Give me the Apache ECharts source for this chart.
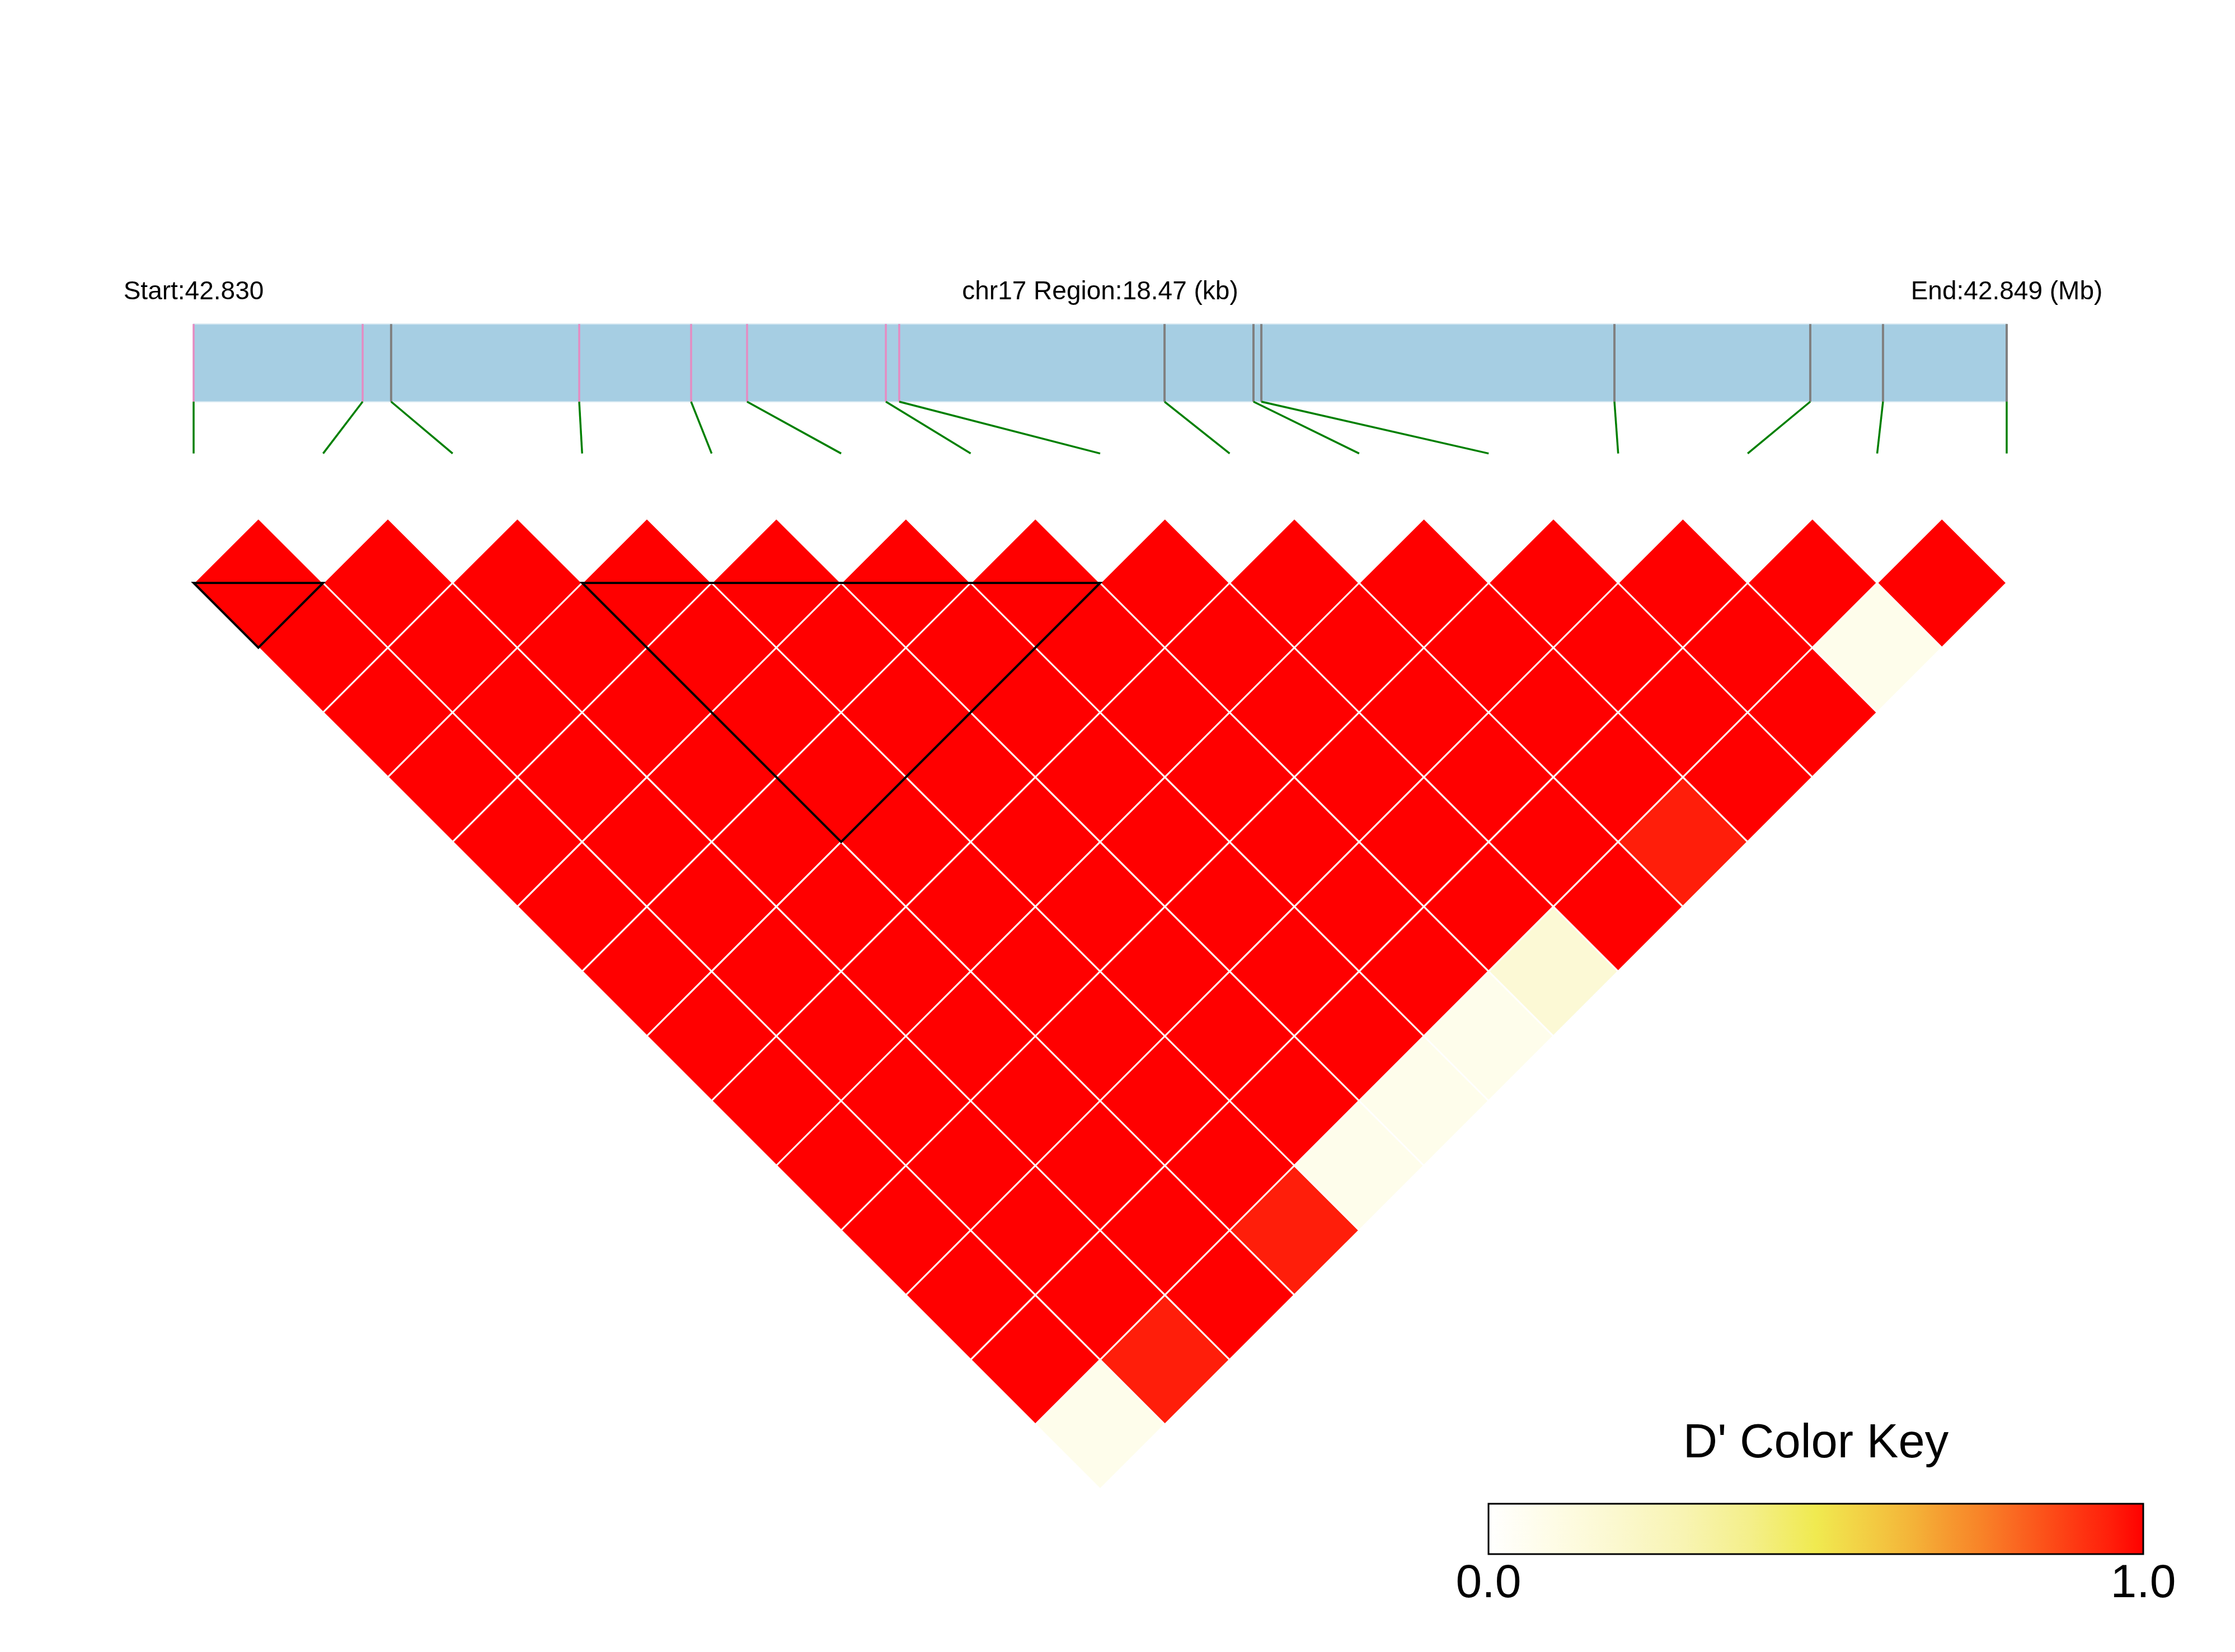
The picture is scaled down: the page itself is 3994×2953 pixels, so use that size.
<!DOCTYPE html>
<html><head><meta charset="utf-8">
<script src="https://cdn.jsdelivr.net/npm/echarts/dist/echarts.min.js"></script>
<style>html,body{margin:0;padding:0;background:#fff}#c{width:3994px;height:2953px}</style>
</head><body><div id="c"></div>
<script>
// ---------- data ----------
const chromosome = 'chr17';
const regionStartMb = 42.830;
const regionEndMb = 42.849;
const regionLengthKb = 18.47;
// physical SNP positions (kb from region start)
const snpPosKb = [0, 1.722, 2.012, 3.928, 5.068, 5.638, 7.052, 7.188, 9.891, 10.797, 10.877, 14.474, 16.469, 17.210, 18.47];
// marker class (1 = pink mark, 0 = grey mark)
const snpClass = [1, 1, 0, 1, 1, 1, 1, 1, 0, 0, 0, 0, 0, 0, 0];
// pairwise D' (row i holds pairs (i, i+1 .. 14))
const dprimeRows = [
  [1, 1, 1, 1, 1, 1, 1, 1, 1, 1, 1, 1, 1, 0.08],
  [1, 1, 1, 1, 1, 1, 1, 1, 1, 1, 1, 1, 0.95],
  [1, 1, 1, 1, 1, 1, 1, 1, 1, 1, 1, 1],
  [1, 1, 1, 1, 1, 1, 1, 1, 1, 1, 0.95],
  [1, 1, 1, 1, 1, 1, 1, 1, 1, 0.08],
  [1, 1, 1, 1, 1, 1, 1, 1, 0.08],
  [1, 1, 1, 1, 1, 1, 1, 0.08],
  [1, 1, 1, 1, 1, 1, 0.17],
  [1, 1, 1, 1, 1, 1],
  [1, 1, 1, 1, 0.95],
  [1, 1, 1, 1],
  [1, 1, 1],
  [1, 0.08],
  [1]
];
// haplotype blocks (first SNP, last SNP)
const ldBlocks = [[0, 1], [3, 7]];
const keyTicks = [0, 1];
const keyTitle = "D' Color Key";
// colour key stops [value, colour]
const paletteStops = [
  [0.0, '#FFFFFF'], [0.1, '#FEFCE6'], [0.2, '#FBF8CE'], [0.3, '#F8F4B2'], [0.4, '#F4EF8A'],
  [0.5, '#F0EA50'], [0.55, '#F2D848'], [0.6, '#F3C640'], [0.65, '#F4B238'], [0.7, '#F69A30'],
  [0.75, '#F88428'], [0.8, '#FA6A22'], [0.85, '#FC5019'], [0.9, '#FE3612'], [0.95, '#FF1E0A'], [1.0, '#FF0000']
];

// ---------- helpers ----------
const FONT = '"Liberation Sans", Arial, Helvetica, sans-serif';
const nSnp = snpPosKb.length;
function hex(h){return [parseInt(h.substr(1,2),16),parseInt(h.substr(3,2),16),parseInt(h.substr(5,2),16)];}
function colorFor(v){
  for (let k = 0; k < paletteStops.length - 1; k++) {
    const a = paletteStops[k], b = paletteStops[k+1];
    if (v <= b[0]) {
      const t = (v - a[0]) / (b[0] - a[0]);
      const ca = hex(a[1]), cb = hex(b[1]);
      return 'rgb(' + ca.map((c, q) => Math.round(c + (cb[q] - c) * t)).join(',') + ')';
    }
  }
  return paletteStops[paletteStops.length-1][1];
}

const ldData = [];
dprimeRows.forEach((row, i) => row.forEach((d, k) => ldData.push([i, i + k + 1, d])));
const geneData = snpPosKb.map((p, k) => [p / regionLengthKb * (nSnp - 1), k, snpClass[k]]);

const BAR_TOP = -2.0, BAR_BOT = -1.4, LINK_END = -1.0, TXT_Y = -2.245;

const chart = echarts.init(document.getElementById('c'), null, {renderer: 'canvas'});
chart.setOption({
  animation: false,
  backgroundColor: '#fff',
  grid: [
    {left: 346, width: 3240, top: 116.3, height: 2777.2},
    {left: 2660, width: 1170, top: 2688, height: 90}
  ],
  xAxis: [
    {gridIndex: 0, type: 'value', min: 0, max: nSnp - 1, show: false},
    {gridIndex: 1, type: 'value', min: keyTicks[0], max: keyTicks[1], interval: 1,
     axisLine: {show: false}, axisTick: {show: false}, splitLine: {show: false},
     axisLabel: {fontSize: 84, color: '#000', fontFamily: FONT, margin: 12, showMinLabel: true, showMaxLabel: true,
                 formatter: v => v.toFixed(1)}}
  ],
  yAxis: [
    {gridIndex: 0, type: 'value', min: -4, max: 8, inverse: true, show: false},
    {gridIndex: 1, type: 'value', min: 0, max: 1, show: false}
  ],
  series: [
    { // region bar + captions
      type: 'custom', xAxisIndex: 0, yAxisIndex: 0, z: 1,
      data: [[0, nSnp - 1]],
      renderItem: (params, api) => {
        const a = api.coord([api.value(0), BAR_TOP]);
        const b = api.coord([api.value(1), BAR_BOT]);
        const mid = (api.value(0) + api.value(1)) / 2;
        const t0 = api.coord([api.value(0), TXT_Y]);
        const t1 = api.coord([mid, TXT_Y]);
        const t2 = api.coord([api.value(1), TXT_Y]);
        const ts = {fontSize: 46, fontFamily: FONT, fill: '#000', align: 'center', verticalAlign: 'middle'};
        return {type: 'group', children: [
          {type: 'rect', shape: {x: a[0], y: a[1], width: b[0] - a[0], height: b[1] - a[1]},
           style: {fill: '#A6CEE3', stroke: '#D3E7F1', lineWidth: 2}},
          {type: 'text', x: t0[0], y: t0[1], style: Object.assign({text: 'Start:' + regionStartMb.toFixed(3)}, ts)},
          {type: 'text', x: t1[0], y: t1[1], style: Object.assign({text: chromosome + ' Region:' + regionLengthKb.toFixed(2) + ' (kb)'}, ts)},
          {type: 'text', x: t2[0], y: t2[1], style: Object.assign({text: 'End:' + regionEndMb.toFixed(3) + ' (Mb)'}, ts)}
        ]};
      }
    },
    { // SNP marks and connectors
      type: 'custom', xAxisIndex: 0, yAxisIndex: 0, z: 2,
      data: geneData,
      renderItem: (params, api) => {
        const px = api.value(0), k = api.value(1), cls = api.value(2);
        const top = api.coord([px, BAR_TOP]), bot = api.coord([px, BAR_BOT]), end = api.coord([k, LINK_END]);
        return {type: 'group', children: [
          {type: 'line', shape: {x1: top[0], y1: top[1], x2: bot[0], y2: bot[1]},
           style: {stroke: cls ? '#E58BC2' : '#808080', lineWidth: cls ? 3.5 : 4}},
          {type: 'line', shape: {x1: bot[0], y1: bot[1], x2: end[0], y2: end[1]},
           style: {stroke: '#008000', lineWidth: 3.5}}
        ]};
      }
    },
    { // LD cells
      type: 'custom', xAxisIndex: 0, yAxisIndex: 0, z: 3,
      data: ldData,
      renderItem: (params, api) => {
        const i = api.value(0), j = api.value(1), d = api.value(2);
        const cx = (i + j) / 2, cy = (j - i - 1) / 2;
        const pts = [[cx, cy - 0.5], [cx + 0.5, cy], [cx, cy + 0.5], [cx - 0.5, cy]].map(p => api.coord(p));
        return {type: 'polygon', shape: {points: pts}, style: {fill: colorFor(d), stroke: '#fff', lineWidth: 3}};
      }
    },
    { // LD blocks
      type: 'custom', xAxisIndex: 0, yAxisIndex: 0, z: 4,
      data: ldBlocks,
      renderItem: (params, api) => {
        const a = api.value(0), b = api.value(1);
        const pts = [[a, 0], [b, 0], [(a + b) / 2, (b - a) / 2]].map(p => api.coord(p));
        return {type: 'polygon', shape: {points: pts}, style: {fill: null, stroke: '#000', lineWidth: 4}};
      }
    },
    { // colour key
      type: 'custom', xAxisIndex: 1, yAxisIndex: 1, z: 3,
      data: [[keyTicks[0], keyTicks[1]]],
      renderItem: (params, api) => {
        const a = api.coord([api.value(0), 1]), b = api.coord([api.value(1), 0]);
        const tt = api.coord([(api.value(0) + api.value(1)) / 2, 2.18]);
        return {type: 'group', children: [
          {type: 'rect', shape: {x: a[0], y: a[1], width: b[0] - a[0], height: b[1] - a[1]},
           style: {fill: {type: 'linear', x: 0, y: 0, x2: 1, y2: 0,
                          colorStops: paletteStops.map(s => ({offset: s[0], color: s[1]}))},
                   stroke: '#000', lineWidth: 3}},
          {type: 'text', x: tt[0], y: tt[1], style: {text: keyTitle, fontSize: 85, fontFamily: FONT, fill: '#000',
            align: 'center', verticalAlign: 'middle'}}
        ]};
      }
    }
  ]
});
</script></body></html>
